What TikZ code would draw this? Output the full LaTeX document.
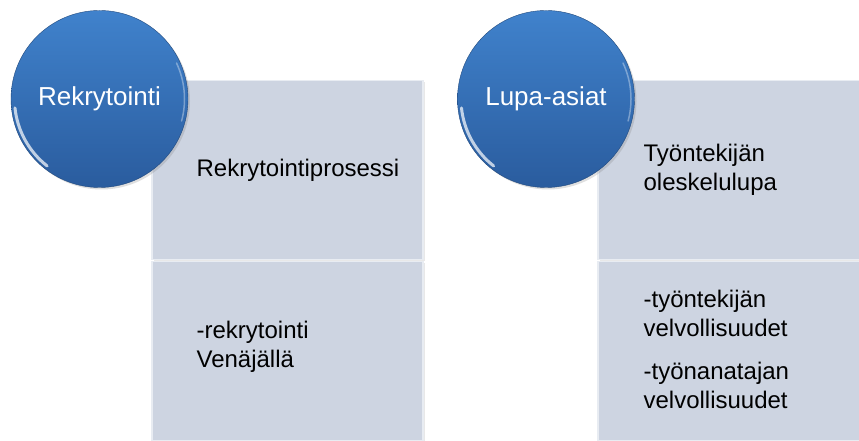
\documentclass[tikz,border=0pt]{standalone}
\usepackage{fontspec}
\setmainfont{Liberation Sans}
\usetikzlibrary{positioning,shadows}
\definecolor{boxfill}{RGB}{205,212,225}
\definecolor{balltop}{RGB}{64,130,204}
\definecolor{ballbot}{RGB}{42,92,158}
\tikzset{every node/.style={align=left}}
\tikzset{
  panel/.style={rectangle,fill=boxfill,draw=white!55!boxfill,line width=1.2pt,
    minimum width=271pt,minimum height=179pt,inner sep=0pt,
    drop shadow={opacity=0.18,shadow xshift=1.5pt,shadow yshift=-1.5pt}},
  panetext/.style={font=\fontsize{24}{29}\selectfont,inner sep=0pt,text=black},
  ball/.style={circle,minimum size=177pt,inner sep=0pt,top color=balltop,bottom color=ballbot,
    draw=ballbot!80!black,line width=0.4pt,text=white,font=\fontsize{26}{30}\selectfont,
    drop shadow={opacity=0.25,shadow xshift=2pt,shadow yshift=-2pt}},
  rim/.style={white,opacity=0.7,line width=3pt,line cap=round}
}

\begin{document}
\begin{tikzpicture}[x=1pt,y=1pt]
\clip (0,0) rectangle (859,441);
\fill[white] (0,0) rectangle (859,441);

% left group
\node[panel] (L1) at (287.5,271) {};
\node[panel] (L2) at (287.5,90) {};
\node[panetext,right=45pt of L1.west] (L1t) {Rekrytointiprosessi};
\node[panetext,right=45pt of L2.west,yshift=4pt] (L2t) {-rekrytointi\\Venäjällä};
\node[ball] (C1) at (99.5,342) {Rekrytointi};
\draw[rim] ([shift={(186:85pt)}]C1.center) arc (186:232:85pt);
\draw[rim,opacity=0.35,line width=1.5pt] ([shift={(-15:85pt)}]C1.center) arc (-15:25:85pt);

% right group
\node[panel] (R1) at (733.5,271) {};
\node[panel] (R2) at (733.5,90) {};
\node[panetext,right=46pt of R1.west] (R1t) {Työntekijän\\oleskelulupa};
\node[panetext,right=46pt of R2.west,yshift=2pt] (R2t) {-työntekijän\\velvollisuudet\\[14pt]-työnanatajan\\velvollisuudet};
\node[ball] (C2) at (546,342) {Lupa-asiat};
\draw[rim] ([shift={(186:85pt)}]C2.center) arc (186:232:85pt);
\draw[rim,opacity=0.35,line width=1.5pt] ([shift={(-15:85pt)}]C2.center) arc (-15:25:85pt);

\end{tikzpicture}
\end{document}
